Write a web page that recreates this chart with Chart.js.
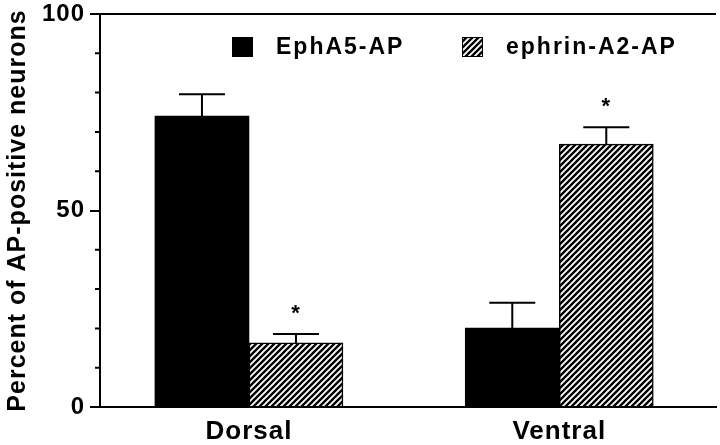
<!DOCTYPE html>
<html>
<head>
<meta charset="utf-8">
<script src="https://cdn.jsdelivr.net/npm/chart.js@4.4.1/dist/chart.umd.min.js"></script>
<style>
  html, body { margin: 0; padding: 0; background: #fff; }
  #wrap { width: 720px; height: 445px; }
</style>
</head>
<body>
<div id="wrap"><canvas id="apChart" width="720" height="445"></canvas></div>
<script>
// values (percent of AP-positive neurons)
const categories = ['Dorsal', 'Ventral'];
const ephA5Values = [74, 20.1];
const ephA5Errors = [5.6, 6.4];
const ephrinA2Values = [16.3, 66.9];
const ephrinA2Errors = [2.3, 4.3];
const ephrinA2Significant = [true, true];
const yTickLabels = [0, 50, 100];

const FONT = "'Liberation Sans', Arial, Helvetica, sans-serif";

// diagonal "/" hatch for the ephrin-A2 bars
function makeHatch() {
    const size = 6;
    const c = document.createElement('canvas');
    c.width = size;
    c.height = size;
    const g = c.getContext('2d');
    g.fillStyle = '#fff';
    g.fillRect(0, 0, size, size);
    g.strokeStyle = '#000';
    g.lineWidth = 2.4;
    g.beginPath();
    g.moveTo(-size, size * 2); g.lineTo(size * 2, -size);
    g.moveTo(-size, size); g.lineTo(size, -size);
    g.moveTo(0, size * 2); g.lineTo(size * 2, 0);
    g.stroke();
    return g.createPattern(c, 'repeat');
}

// categories sit at x = 1, 3 on a linear axis so the groups land where the figure has them
const toPoints = vals => vals.map((v, i) => ({ x: 2 * i + 1, y: v }));

/* error whiskers (upward only) + significance stars */
const errorBars = {
    id: 'errorBars',
    afterDatasetsDraw(chart) {
        const ctx = chart.ctx;
        const yScale = chart.scales.y;
        ctx.save();
        ctx.strokeStyle = '#000';
        ctx.fillStyle = '#000';
        ctx.lineWidth = 2;
        chart.data.datasets.forEach((ds, i) => {
            const meta = chart.getDatasetMeta(i);
            meta.data.forEach((bar, j) => {
                const top = yScale.getPixelForValue(ds.data[j].y + ds.errors[j]);
                ctx.beginPath();
                ctx.moveTo(bar.x, bar.y);
                ctx.lineTo(bar.x, top);
                ctx.moveTo(bar.x - 23, top);
                ctx.lineTo(bar.x + 23, top);
                ctx.stroke();
                if (ds.significant && ds.significant[j]) {
                    ctx.font = 'bold 22px ' + FONT;
                    ctx.textAlign = 'center';
                    ctx.textBaseline = 'alphabetic';
                    ctx.fillText('*', bar.x, top - 14);
                }
            });
        });
        ctx.restore();
        // x labels are drawn after the datasets and are not letter-spaced
        ctx.letterSpacing = '0px';
    }
};

/* top frame line, minor y ticks, spaced text for the y axis */
const frame = {
    id: 'frame',
    beforeDraw(chart) {
        chart.ctx.letterSpacing = '1px';
    },
    afterDraw(chart) {
        const { ctx, chartArea: a, scales: { y } } = chart;
        ctx.save();
        ctx.strokeStyle = '#000';
        ctx.lineWidth = 2;
        ctx.beginPath();
        ctx.moveTo(a.left, a.top);
        ctx.lineTo(a.right, a.top);
        y.ticks.forEach(t => {
            if (yTickLabels.includes(t.value)) return;
            const py = y.getPixelForValue(t.value);
            ctx.moveTo(a.left - 5, py);
            ctx.lineTo(a.left, py);
        });
        ctx.stroke();
        ctx.restore();
    }
};

/* legend inside the plot, as in the figure */
const boxLegend = {
    id: 'boxLegend',
    afterDraw(chart) {
        const ctx = chart.ctx;
        const spots = [232, 462];
        ctx.save();
        ctx.letterSpacing = '2px';
        ctx.font = 'bold 23px ' + FONT;
        ctx.textBaseline = 'alphabetic';
        ctx.textAlign = 'left';
        chart.data.datasets.forEach((ds, i) => {
            const x = spots[i];
            ctx.fillStyle = ds.backgroundColor;
            ctx.fillRect(x, 37, 21, 20);
            ctx.strokeStyle = '#000';
            ctx.lineWidth = 1;
            ctx.strokeRect(x + 0.5, 37.5, 20, 19);
            ctx.fillStyle = '#000';
            ctx.fillText(ds.label, x + 44, 54);
        });
        ctx.restore();
    }
};

const hatch = makeHatch();
const ctx = document.getElementById('apChart').getContext('2d');

new Chart(ctx, {
    type: 'bar',
    data: {
        datasets: [{
            label: 'EphA5-AP',
            data: toPoints(ephA5Values),
            backgroundColor: '#000',
            borderColor: '#000',
            borderWidth: 0,
            errors: ephA5Errors,
        }, {
            label: 'ephrin-A2-AP',
            data: toPoints(ephrinA2Values),
            backgroundColor: hatch,
            borderColor: '#000',
            borderWidth: 1.5,
            errors: ephrinA2Errors,
            significant: ephrinA2Significant,
        }]
    },
    options: {
        responsive: false,
        animation: false,
        layout: { padding: { top: 12, right: 4, left: 0, bottom: 0 } },
        datasets: { bar: { barThickness: 94 } },
        plugins: {
            legend: { display: false },
            tooltip: { enabled: false },
        },
        scales: {
            x: {
                type: 'linear',
                min: 0.04,
                max: 4.01,
                offset: false,
                z: 1,
                afterBuildTicks: s => { s.ticks = categories.map((c, i) => ({ value: 2 * i + 1 })); },
                ticks: {
                    callback: v => categories[(v - 1) / 2],
                    font: { size: 26, weight: 'bold', family: FONT },
                    color: '#000',
                    padding: 9,
                    maxRotation: 0,
                    autoSkip: false,
                },
                grid: { display: false, drawTicks: false },
                border: { display: true, color: '#000', width: 2 },
                afterFit: s => { s.height = 38; },
            },
            y: {
                min: 0,
                max: 100,
                ticks: {
                    stepSize: 10,
                    callback: v => yTickLabels.includes(v) ? v : '',
                    font: { size: 24, weight: 'bold', family: FONT, lineHeight: 0.75 },
                    color: '#000',
                    padding: 5,
                },
                grid: {
                    drawOnChartArea: false,
                    tickLength: 10,
                    lineWidth: 2,
                    color: c => (c.tick && yTickLabels.includes(c.tick.value)) ? '#000' : 'rgba(0,0,0,0)',
                },
                border: { display: true, color: '#000', width: 2 },
                title: {
                    display: true,
                    text: 'Percent of AP-positive neurons',
                    font: { size: 25, weight: 'bold', family: FONT },
                    color: '#000',
                    padding: { top: 3, bottom: 0 },
                },
                afterFit: s => { s.width = 100; },
            }
        }
    },
    plugins: [errorBars, frame, boxLegend]
});
</script>
</body>
</html>
